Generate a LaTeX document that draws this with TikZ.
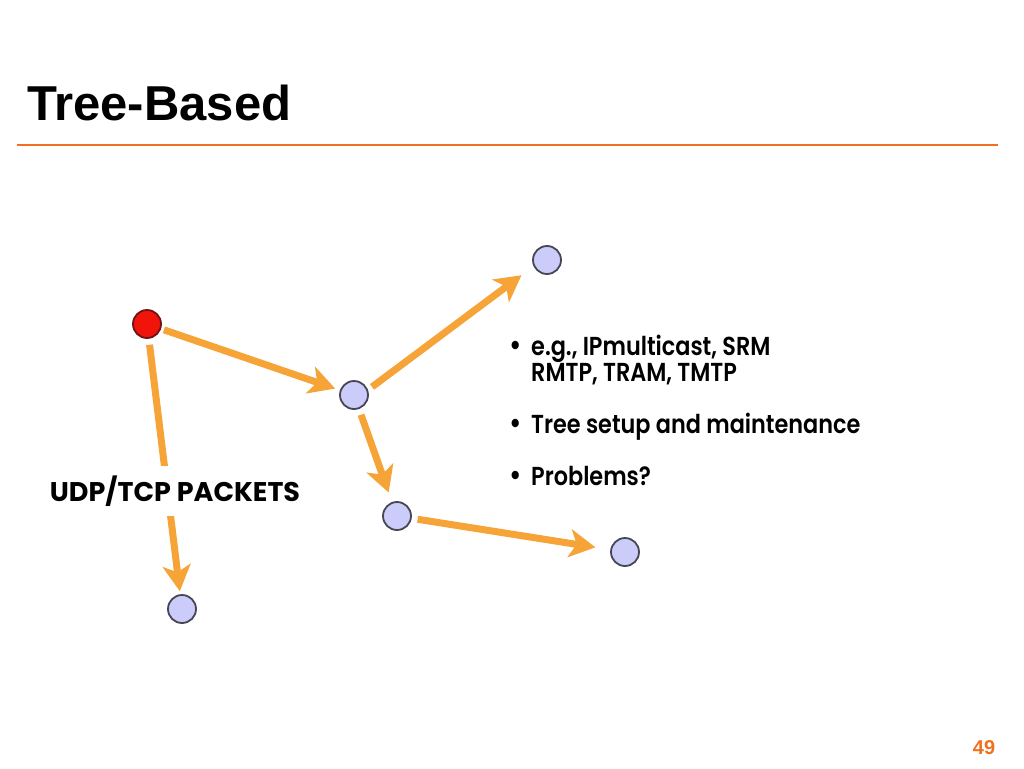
\documentclass[tikz,border=0pt]{standalone}
\usepackage{fontspec}
\setmainfont{Liberation Sans}
\newfontfamily\geo{Poppins}[UprightFont=* SemiBold, BoldFont=* Bold, FakeStretch=0.86]
\newfontfamily\geolabel{Poppins}[UprightFont=* Bold]
\usetikzlibrary{arrows.meta}
\definecolor{arrorange}{RGB}{246,163,55}
\definecolor{ruleorange}{RGB}{240,112,32}
\definecolor{nodefill}{RGB}{204,204,250}
\definecolor{nodedraw}{RGB}{70,70,85}
\definecolor{redfill}{RGB}{240,20,10}
\definecolor{reddraw}{RGB}{110,20,20}
\newcommand{\bul}{\makebox[22pt][l]{\fontsize{30}{26}\selectfont •}}
\tikzset{
  peer/.style={circle, minimum size=28pt, inner sep=0pt, fill=nodefill, draw=nodedraw, line width=1.8pt},
  source/.style={peer, fill=redfill, draw=reddraw},
  arr/.style={draw=arrorange, line width=7pt, -{Stealth[width=28pt,length=26pt,inset=7pt]}},
  bullet/.style={anchor=base west, font=\geo\fontsize{26}{26}\selectfont, inner sep=0pt, align=left},
}
\begin{document}
\begin{tikzpicture}[x=1pt,y=-1pt]
\useasboundingbox (0,0) rectangle (1024,768);
\node[anchor=base west, inner sep=0pt, font=\bfseries\fontsize{49}{52}\selectfont] (title) at (27,120) {Tree-Based};
\draw[ruleorange, line width=2.5pt] (17,145) coordinate (rl) -- (998,145) coordinate (rr);
\node[anchor=base, inner sep=0pt, text=ruleorange, font=\bfseries\fontsize{20}{22}\selectfont] (pg) at (984,754) {49};

\node[source] (r) at (147,324) {};
\node[peer] (n1) at (354,395) {};
\node[peer] (n2) at (547,260) {};
\node[peer] (n3) at (397,516) {};
\node[peer] (n4) at (625,552) {};
\node[peer] (n5) at (182,609) {};

\draw[arr, shorten <=3pt, shorten >=5pt] (r) -- (n1);
\draw[arr, shorten <=5pt, shorten >=15pt] (n1.20) -- (n2.205);
\draw[arr, shorten <=6pt, shorten >=10pt] (n1) -- (n3);
\draw[arr, shorten <=6pt, shorten >=15pt] (n3) -- (n4);
\draw[arr, shorten <=6pt, shorten >=3pt] (r) -- (n5);

\node[fill=white, inner sep=2pt, inner ysep=10pt, font=\geolabel\fontsize{27}{27}\selectfont] (lbl) at (175,491) {UDP/TCP PACKETS};

\node[bullet] (b1) at (509,381) {\bul e.g., IPmulticast, SRM\\\hspace*{22pt}RMTP, TRAM, TMTP};
\node[bullet] (b2) at (509,433) {\bul Tree setup and maintenance};
\node[bullet] (b3) at (509,485) {\bul Problems?};
\end{tikzpicture}
\end{document}
